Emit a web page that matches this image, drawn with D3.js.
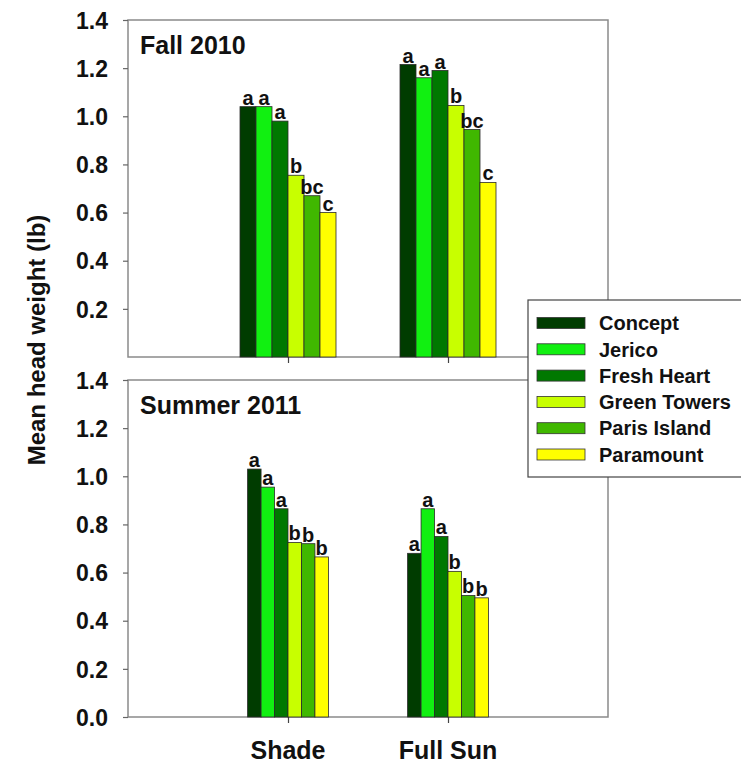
<!DOCTYPE html>
<html>
<head>
<meta charset="utf-8">
<script src="https://cdn.jsdelivr.net/npm/d3@7"></script>
<style>
  html, body { margin: 0; padding: 0; background: #fff; }
  svg { display: block; font-family: "Liberation Sans", Arial, Helvetica, sans-serif; font-weight: bold; }
</style>
</head>
<body>
<svg id="chart" width="741" height="765"></svg>
<script>
// Lettuce cultivars and growing treatments
const cultivars = ["Concept", "Jerico", "Fresh Heart", "Green Towers", "Paris Island", "Paramount"];
const treatments = ["Shade", "Full Sun"];
const cultivarColors = ["#003c00", "#11f011", "#007800", "#c8ff00", "#40b800", "#ffff00"];

// Fall 2010 mean head weight (lb)
const fall2010Shade = [1.04, 1.04, 0.98, 0.755, 0.67, 0.60];
const fall2010FullSun = [1.215, 1.16, 1.19, 1.045, 0.945, 0.725];
const fall2010ShadeLetters = ["a", "a", "a", "b", "bc", "c"];
const fall2010FullSunLetters = ["a", "a", "a", "b", "bc", "c"];

// Summer 2011 mean head weight (lb)
const summer2011Shade = [1.03, 0.955, 0.865, 0.725, 0.72, 0.665];
const summer2011FullSun = [0.68, 0.865, 0.75, 0.605, 0.505, 0.495];
const summer2011ShadeLetters = ["a", "a", "a", "b", "b", "b"];
const summer2011FullSunLetters = ["a", "a", "a", "b", "b", "b"];

const topTicks = [0.2, 0.4, 0.6, 0.8, 1.0, 1.2, 1.4];
const bottomTicks = [0.0, 0.2, 0.4, 0.6, 0.8, 1.0, 1.2, 1.4];

const svg = d3.select("#chart");
const frameColor = "#8a8a8a";

const panels = [
  { title: "Fall 2010", top: 20, bottom: 357, ticks: topTicks, groupFrac: 0.6,
    values: [fall2010Shade, fall2010FullSun], letters: [fall2010ShadeLetters, fall2010FullSunLetters] },
  { title: "Summer 2011", top: 380, bottom: 717, ticks: bottomTicks, groupFrac: 0.505,
    values: [summer2011Shade, summer2011FullSun], letters: [summer2011ShadeLetters, summer2011FullSunLetters] }
];

const left = 128, right = 608;
const x = d3.scalePoint().domain(treatments).range([left, right]).padding(1);

panels.forEach(p => {
  const y = d3.scaleLinear().domain([0, 1.4]).range([p.bottom, p.top]);
  const groupW = x.step() * p.groupFrac;
  const xb = d3.scaleBand().domain(cultivars).range([-groupW / 2, groupW / 2]).padding(0);

  const g = svg.append("g");

  // plot frame
  g.append("rect")
    .attr("x", left).attr("y", p.top)
    .attr("width", right - left).attr("height", p.bottom - p.top)
    .attr("fill", "none").attr("stroke", frameColor).attr("stroke-width", 1.5);

  // y axis
  const yAxis = d3.axisLeft(y).tickValues(p.ticks).tickSize(5).tickPadding(15)
    .tickFormat(d3.format(".1f"));
  const ya = g.append("g").attr("transform", `translate(${left},0)`).call(yAxis);
  ya.select(".domain").remove();
  ya.selectAll("line").attr("stroke", "#666").attr("stroke-width", 1.2);
  ya.selectAll("text").attr("fill", "#111").style("font-size", "23px").style("font-weight", "bold")
    .attr("dy", "0.36em");

  // x axis ticks
  const xAxis = d3.axisBottom(x).tickSize(6).tickFormat("");
  const xa = g.append("g").attr("transform", `translate(0,${p.bottom})`).call(xAxis);
  xa.select(".domain").remove();
  xa.selectAll("line").attr("stroke", "#444").attr("stroke-width", 1.2);

  // bars
  treatments.forEach((t, ti) => {
    const vals = p.values[ti];
    const lets = p.letters[ti];
    const grp = g.append("g").attr("transform", `translate(${x(t)},0)`);
    grp.selectAll("rect").data(cultivars).join("rect")
      .attr("x", c => xb(c))
      .attr("y", (c, i) => y(vals[i]))
      .attr("width", xb.bandwidth())
      .attr("height", (c, i) => y(0) - y(vals[i]))
      .attr("fill", (c, i) => cultivarColors[i])
      .attr("stroke", "#2a2a2a").attr("stroke-width", 0.8);
    grp.selectAll("text").data(cultivars).join("text")
      .attr("x", c => xb(c) + xb.bandwidth() / 2)
      .attr("y", (c, i) => y(vals[i]) - 2)
      .attr("text-anchor", "middle")
      .attr("fill", "#111")
      .style("font-size", "20px")
      .text((c, i) => lets[i]);
  });

  // panel title
  g.append("text").attr("x", 140).attr("y", p.top + 34)
    .attr("fill", "#111").style("font-size", "25px").text(p.title);
});

// category labels
svg.selectAll(".cat").data(treatments).join("text").attr("class", "cat")
  .attr("x", d => x(d)).attr("y", 759).attr("text-anchor", "middle")
  .attr("fill", "#111").style("font-size", "25px").text(d => d);

// y axis title
svg.append("text")
  .attr("transform", "translate(45,340) rotate(-90)")
  .attr("text-anchor", "middle").attr("fill", "#111")
  .style("font-size", "24px").text("Mean head weight (lb)");

// legend
const legend = svg.append("g");
legend.append("rect").attr("x", 528).attr("y", 300).attr("width", 220).attr("height", 177)
  .attr("fill", "#fff").attr("stroke", "#444").attr("stroke-width", 1.2);
const rowY = d3.scalePoint().domain(cultivars).range([323, 454.5]);
legend.selectAll(".sw").data(cultivars).join("rect").attr("class", "sw")
  .attr("x", 537).attr("y", d => rowY(d) - 5.5).attr("width", 48).attr("height", 11)
  .attr("fill", (d, i) => cultivarColors[i]).attr("stroke", "#333").attr("stroke-width", 0.8);
legend.selectAll(".lt").data(cultivars).join("text").attr("class", "lt")
  .attr("x", 599).attr("y", d => rowY(d)).attr("dy", "0.36em")
  .attr("fill", "#111").style("font-size", "20px").text(d => d);
</script>
</body>
</html>
